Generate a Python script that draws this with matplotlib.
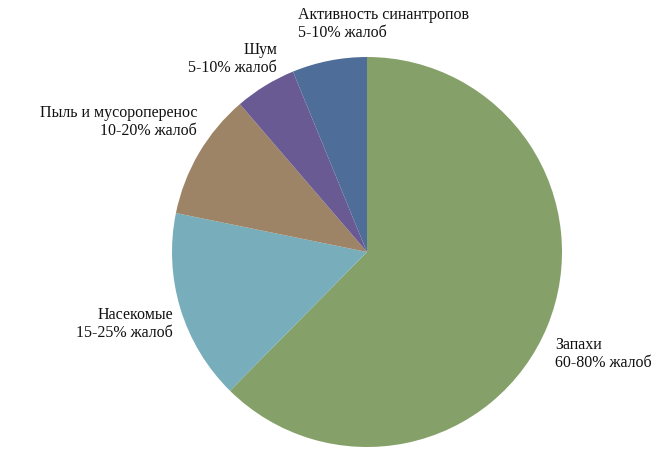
import matplotlib.pyplot as plt

categories = ['Запахи', 'Насекомые', 'Пыль и мусороперенос', 'Шум', 'Активность синантропов']
ranges = ['60-80% жалоб', '15-25% жалоб', '10-20% жалоб', '5-10% жалоб', '5-10% жалоб']
shares = [62.4, 15.8, 10.5, 5.1, 6.2]
colors = ['#85a169', '#78adbb', '#9e8466', '#695a94', '#4f6d99']

W, H = 661, 461
fig = plt.figure(figsize=(W / 100, H / 100), dpi=100)
plt.rcParams['font.family'] = ['Liberation Serif', 'DejaVu Serif']

# центр круга и радиус в пикселях
cx, cy, r = 367, 252, 195
ax = fig.add_axes([(cx - r) / W, (H - cy - r) / H, 2 * r / W, 2 * r / H])
ax.pie(shares, colors=colors, startangle=90, counterclock=False,
       wedgeprops=dict(linewidth=0))
ax.set_xlim(-1, 1)
ax.set_ylim(-1, 1)
ax.set_aspect('equal')

# подписи: (x, y центра двух строк в пикселях, выравнивание)
label_pos = [
    (555, 354, 'left'),
    (173, 324, 'right'),
    (197, 122, 'right'),
    (277, 59, 'right'),
    (298, 24, 'left'),
]
for name, rng, (x, y, ha) in zip(categories, ranges, label_pos):
    fig.text(x / W, 1 - y / H, name + '\n' + rng, ha=ha, va='center',
             fontsize=11.5, linespacing=1.1, color='#111111')

fig.savefig('out.png', dpi=100)
